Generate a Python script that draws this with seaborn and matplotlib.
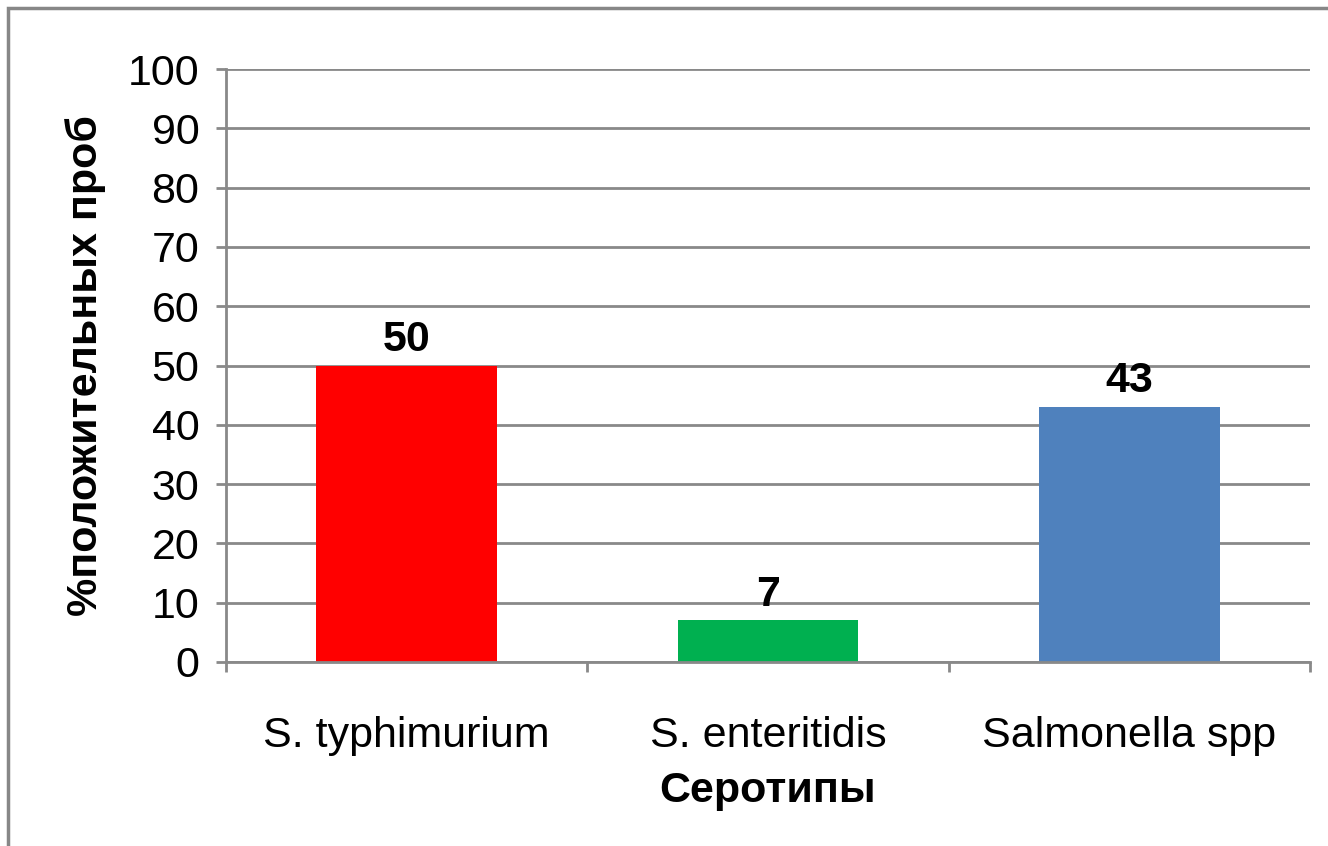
import pandas as pd
import matplotlib.pyplot as plt
import seaborn as sns
import numpy as np

# Данные
serotypes = ['S. typhimurium', 'S. enteritidis', 'Salmonella spp']
percent = [50, 7, 43]
colors = ['#FF0000', '#00B050', '#4F81BD']

df = pd.DataFrame({'Серотипы': serotypes, 'Процент': percent})

sns.set_style('white')
plt.rcParams['font.family'] = ['Liberation Sans', 'DejaVu Sans']
plt.rcParams['text.color'] = 'black'
plt.rcParams['axes.labelcolor'] = 'black'
plt.rcParams['xtick.color'] = 'black'
plt.rcParams['ytick.color'] = 'black'

fig = plt.figure(figsize=(13.28, 8.46), dpi=100)
ax = fig.add_axes([0.1702, 0.2175, 0.8162, 0.7009])

sns.barplot(data=df, x='Серотипы', y='Процент', hue='Серотипы', palette=colors,
            width=0.5, legend=False, ax=ax, saturation=1, linewidth=0)

grid_c = '#898989'
ax.set_ylim(0, 100)
ax.set_xlim(-0.5, 2.5)
ax.set_yticks(np.arange(0, 101, 10))
ax.yaxis.grid(True, color=grid_c, linewidth=2)
ax.set_axisbelow(True)
for s in ['top', 'right']:
    ax.spines[s].set_visible(False)
for s in ['left', 'bottom']:
    ax.spines[s].set_color(grid_c)
    ax.spines[s].set_linewidth(2)

ax.tick_params(axis='y', left=True, length=7.2, width=2, color=grid_c,
               labelcolor='black', pad=12, labelsize=31)
ax.set_xticks(range(len(serotypes)))
ax.set_xticklabels(serotypes)
ax.tick_params(axis='x', which='major', bottom=True, length=0, pad=39,
               labelsize=31, labelcolor='black')
ax.set_xticks([-0.5, 0.5, 1.5, 2.5], minor=True)
ax.tick_params(axis='x', which='minor', bottom=True, length=7.2, width=2, color=grid_c)

for i, v in enumerate(percent):
    ax.text(i, v + 1.0, str(v), ha='center', va='bottom', fontsize=31,
            fontweight='bold', color='black')

ax.set_xlabel('Серотипы', fontsize=31, fontweight='bold', labelpad=11, color='black')
ax.set_ylabel('%положительных проб', fontsize=31, fontweight='bold', labelpad=16,
              color='black')

# рамка диаграммы
fig.patches.append(plt.Rectangle((8 / 1328, -0.1), 1.2, 1 - 8 / 846 + 0.1,
                                 transform=fig.transFigure, fill=False,
                                 edgecolor='#878787', linewidth=2.5))

plt.savefig('out.png', dpi=100)
